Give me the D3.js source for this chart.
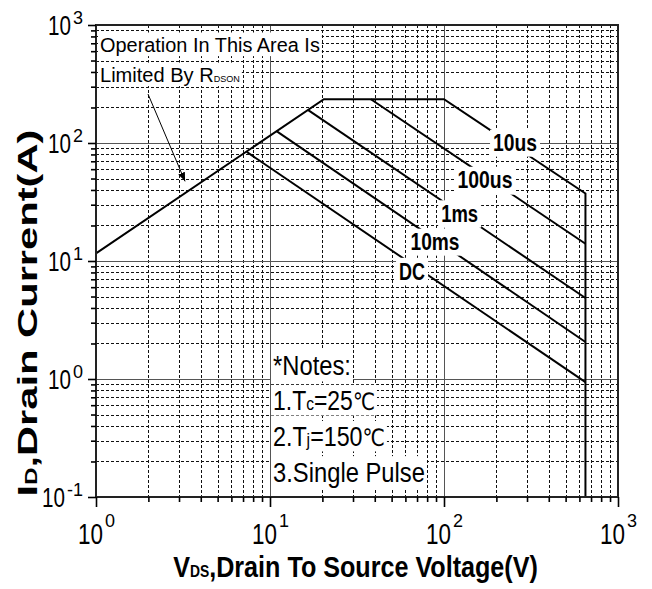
<!DOCTYPE html>
<html><head><meta charset="utf-8">
<script src="https://cdn.jsdelivr.net/npm/d3@7"></script>
<style>
html,body{margin:0;padding:0;background:#fff;}
svg text{font-family:"Liberation Sans",Arial,Helvetica,sans-serif;fill:#000;}
</style></head><body>
<svg id="chart" width="652" height="589"></svg>
<script>
// ---------- data ----------
const xDomain = [1, 1000];
const yDomain = [0.1, 1000];
const xMajorTicks = [1, 10, 100, 1000];
const xTickExponents = ["0", "1", "2", "3"];
const yMajorTicks = [0.1, 1, 10, 100, 1000];
const yTickExponents = ["-1", "0", "1", "2", "3"];
// outer envelope: RDS(on) limit, package current limit, 10us line, 650V limit
const envelope10us = [[1, 11.6], [20.4, 235], [100, 235], [650, 37.3], [650, 0.1]];
const curve100us = [[38, 235], [650, 14.0]];
const curve1ms = [[16.5, 191], [650, 4.86]];
const curve10ms = [[10.9, 126], [650, 2.06]];
const curveDC = [[7.35, 84], [650, 0.94]];
const curveNames = ["10us", "100us", "1ms", "10ms", "DC"];
const curveLabelPos = [[256, 99.4], [172, 48.3], [123, 24.9], [88.8, 14.4], [65.5, 8.07]];
const curveLabelWidths = [44, 55, 37, 49, 26];

// ---------- layout ----------
const m = {left: 96, right: 618, top: 25, bottom: 497};
const x = d3.scaleLog().domain(xDomain).range([m.left, m.right]);
const y = d3.scaleLog().domain(yDomain).range([m.bottom, m.top]);
const svg = d3.select("#chart");

const minorX = [];
[1, 10, 100].forEach(d => { for (let k = 2; k <= 9; k++) minorX.push(d * k); });
const minorY = [];
[0.1, 1, 10, 100].forEach(d => { for (let k = 2; k <= 9; k++) minorY.push(d * k); });

// ---------- helpers ----------
// horizontally condense a text to a given width and place it
function fitTo(t, px, py, w, rot) {
  const n = t.node().getComputedTextLength();
  const s = w / n;
  t.attr("x", 0).attr("y", 0)
   .attr("transform", `translate(${px},${py})${rot ? ` rotate(${rot})` : ""} scale(${s},1)`);
  return s;
}
// white background box behind a fitted (non-rotated) text
function boxBehind(g, t, px, py, s, pad) {
  const b = t.node().getBBox();
  g.insert("rect", () => t.node())
    .attr("x", px + s * b.x - pad[0]).attr("y", py + b.y - pad[1])
    .attr("width", s * b.width + 2 * pad[0]).attr("height", b.height + 2 * pad[1])
    .attr("fill", "#fff");
}

// ---------- grid ----------
const grid = svg.append("g").attr("shape-rendering", "crispEdges");
grid.selectAll(".gx").data(minorX).join("line")
  .attr("x1", d => Math.round(x(d)) + 0.5).attr("x2", d => Math.round(x(d)) + 0.5)
  .attr("y1", m.top).attr("y2", m.bottom)
  .attr("stroke", "#111").attr("stroke-width", 1).attr("stroke-dasharray", "3,2");
grid.selectAll(".gy").data(minorY).join("line")
  .attr("y1", d => Math.round(y(d)) + 0.5).attr("y2", d => Math.round(y(d)) + 0.5)
  .attr("x1", m.left).attr("x2", m.right)
  .attr("stroke", "#111").attr("stroke-width", 1).attr("stroke-dasharray", "3,2");
grid.selectAll(".gX").data(xMajorTicks.slice(1, -1)).join("line")
  .attr("x1", d => Math.round(x(d)) + 0.5).attr("x2", d => Math.round(x(d)) + 0.5)
  .attr("y1", m.top).attr("y2", m.bottom)
  .attr("stroke", "#555").attr("stroke-width", 1);
grid.selectAll(".gY").data(yMajorTicks.slice(1, -1)).join("line")
  .attr("y1", d => Math.round(y(d)) + 0.5).attr("y2", d => Math.round(y(d)) + 0.5)
  .attr("x1", m.left).attr("x2", m.right)
  .attr("stroke", "#555").attr("stroke-width", 1);

// ---------- annotation ----------
const ann = svg.append("g");
{
  const g1 = ann.append("g");
  const t1 = g1.append("text").attr("font-size", 21).text("Operation In This Area Is");
  const s1 = fitTo(t1, 100, 52, 220);
  boxBehind(g1, t1, 100, 52, s1, [2, 0]);
  const g2 = ann.append("g");
  const t2 = g2.append("text");
  t2.append("tspan").attr("font-size", 21).text("Limited By R");
  t2.append("tspan").attr("font-size", 9.5).text("DSON");
  const s2 = fitTo(t2, 100, 82, 140);
  boxBehind(g2, t2, 100, 82, s2, [2, 0]);
}

// ---------- notes ----------
const notes = svg.append("g");
const noteSpecs = [
  {y: 375, w: 78, parts: [["*Notes:", 28, false]]},
  {y: 410, w: 102, parts: [["1.T", 28, false], ["c", 19, false], ["=25", 28, false], ["℃", 24, true]]},
  {y: 446, w: 112, parts: [["2.T", 28, false], ["j", 19, false], ["=150", 28, false], ["℃", 24, true]]},
  {y: 482, w: 152, parts: [["3.Single Pulse", 28, false]]}
];
noteSpecs.forEach(sp => {
  const g = notes.append("g");
  const t = g.append("text");
  sp.parts.forEach(p => {
    const ts = t.append("tspan").attr("font-size", p[1]).text(p[0]);
    if (p[2]) ts.style("font-family", '"DejaVu Sans",sans-serif');
  });
  const s = fitTo(t, 273, sp.y, sp.w);
  boxBehind(g, t, 273, sp.y, s, [2, 0]);
});

// ---------- curves ----------
const line = d3.line().x(d => x(d[0])).y(d => y(d[1]));
const curves = [envelope10us, curve100us, curve1ms, curve10ms, curveDC];
svg.append("g").selectAll("path").data(curves).join("path")
  .attr("d", line).attr("fill", "none").attr("stroke", "#000")
  .attr("stroke-width", 2).attr("stroke-linejoin", "miter");

// curve labels
const lab = svg.append("g");
curveNames.forEach((n, i) => {
  const g = lab.append("g");
  const t = g.append("text").attr("text-anchor", "middle").attr("font-weight", "bold")
    .attr("font-size", 23).text(n);
  const px = x(curveLabelPos[i][0]), py = y(curveLabelPos[i][1]) + 8;
  const s = fitTo(t, px, py, curveLabelWidths[i]);
  boxBehind(g, t, px, py, s, [3, 1]);
});

// ---------- arrow ----------
const defs = svg.append("defs");
defs.append("marker").attr("id", "ah").attr("viewBox", "0 0 10 10").attr("refX", 10).attr("refY", 5)
  .attr("markerWidth", 9).attr("markerHeight", 9).attr("orient", "auto").attr("markerUnits", "userSpaceOnUse")
  .append("path").attr("d", "M0,1 L10,5 L0,9 Z").attr("fill", "#000");
svg.append("line").attr("x1", x(1.99)).attr("y1", y(260)).attr("x2", x(3.25)).attr("y2", y(47.3))
  .attr("stroke", "#000").attr("stroke-width", 1).attr("marker-end", "url(#ah)");

// ---------- frame & axes ----------
svg.append("rect").attr("x", m.left).attr("y", m.top).attr("width", m.right - m.left).attr("height", m.bottom - m.top)
  .attr("fill", "none").attr("stroke", "#222").attr("stroke-width", 2);

function styleAxis(g) {
  g.select(".domain").remove();
  g.selectAll("line").attr("stroke", "#000").attr("stroke-width", 1.6);
  g.selectAll("text").remove();
}
svg.append("g").attr("transform", `translate(0,${m.bottom})`)
  .call(d3.axisBottom(x).tickValues(xMajorTicks).tickSize(10).tickFormat(() => "")).call(styleAxis);
svg.append("g").attr("transform", `translate(0,${m.bottom})`)
  .call(d3.axisBottom(x).tickValues(minorX).tickSize(5).tickFormat(() => "")).call(styleAxis);
svg.append("g").attr("transform", `translate(${m.left},0)`)
  .call(d3.axisLeft(y).tickValues(yMajorTicks).tickSize(8).tickFormat(() => "")).call(styleAxis);
svg.append("g").attr("transform", `translate(${m.left},0)`)
  .call(d3.axisLeft(y).tickValues(minorY).tickSize(5).tickFormat(() => "")).call(styleAxis);

// tick labels (10^n)
const xl = svg.append("g");
xMajorTicks.forEach((v, i) => {
  const px = x(v);
  const t = xl.append("text").attr("text-anchor", "end").attr("font-size", 30).text("10");
  fitTo(t, px + 7, 544, 25);
  xl.append("text").attr("x", px + 9).attr("y", 527).attr("font-size", 18).text(xTickExponents[i]);
});
const yl = svg.append("g");
yMajorTicks.forEach((v, i) => {
  const py = y(v);
  const sup = yl.append("text").attr("x", 83).attr("y", py - 1).attr("text-anchor", "end")
    .attr("font-size", 18).text(yTickExponents[i]);
  const sw = sup.node().getComputedTextLength();
  const t = yl.append("text").attr("text-anchor", "end").attr("font-size", 27).text("10");
  fitTo(t, 81 - sw, py + 9.5, 23);
});

// axis titles
const xt = svg.append("text").attr("text-anchor", "middle").attr("font-weight", "bold").attr("font-size", 29);
xt.append("tspan").text("V");
xt.append("tspan").attr("font-size", 16).text("DS");
xt.append("tspan").text(",Drain To Source Voltage(V)");
fitTo(xt, 355.5, 577, 365);

const yt = svg.append("text").attr("text-anchor", "middle").attr("font-weight", "bold").attr("font-size", 28);
yt.append("tspan").text("I");
yt.append("tspan").attr("font-size", 16).text("D");
yt.append("tspan").text(",Drain Current(A)");
fitTo(yt, 37, 313, 367, -90);
</script>
</body></html>
